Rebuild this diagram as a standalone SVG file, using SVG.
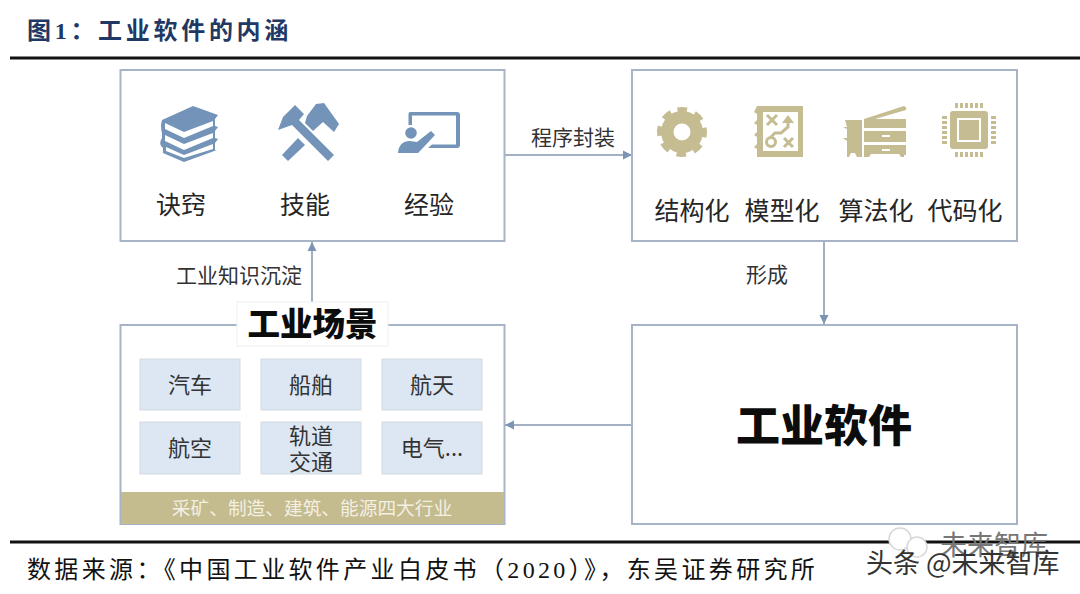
<svg xmlns="http://www.w3.org/2000/svg" width="1080" height="594" viewBox="0 0 1080 594">
<style>
text{font-family:"Noto Sans CJK SC","Liberation Sans",sans-serif;fill:#262626}
.box{fill:#fff;stroke:#a7b4c8;stroke-width:2}
.tile{fill:#dce7f3;stroke:#d3dae3;stroke-width:1}
.lab{font-size:25px;text-anchor:middle}
.t{font-size:22px;text-anchor:middle;fill:#333}
.edge{font-size:21px;text-anchor:middle;fill:#333}
.blue{fill:#7393b8}
.gold{fill:#c5bc92}
.conn{fill:none;stroke:#8496af;stroke-width:1.5;marker-end:url(#arr)}
.rule{stroke:#111;stroke-width:3}
.foot{font-size:24px;fill:#111;letter-spacing:3.35px}
.num{font-family:"Liberation Serif",serif}
</style>
<defs>
<marker id="arr" markerUnits="userSpaceOnUse" markerWidth="10" markerHeight="10" refX="9" refY="5" orient="auto"><path d="M0 0.5L9 5L0 9.5z" fill="#7c93b3"/></marker>
</defs>
<rect width="1080" height="594" fill="#fff"/>
<text x="27" y="39" style="font-size:24px;font-weight:700;fill:#1f3864;letter-spacing:3.7px">图<tspan class="num" style="fill:#1f3864">1</tspan>：工业软件的内涵</text>
<line class="rule" x1="10" y1="58" x2="1080" y2="58"/>
<g id="connectors">
<path class="conn" d="M505 155H632"/>
<path class="conn" d="M824 241V324"/>
<path class="conn" d="M632 425H505"/>
<path class="conn" d="M312 302V242"/>
</g>
<text class="edge" x="573" y="145">程序封装</text>
<text class="edge" x="767" y="282">形成</text>
<text class="edge" x="239" y="283">工业知识沉淀</text>
<g id="node-knowledge">
<rect class="box" x="120.500" y="70" width="384" height="171"/>
<g id="icon-books" class="blue">
<path d="M162 120L193 106L218 115L215 119V126L218 127L215 131V138L218 139L215 143V150L217 150L184 162L163 153V148Q158 144 162 138V133Q160 126 162 120z"/>
<path fill="#fff" d="M165 123L184 132L213 121V126L184 138L165 129z"/>
<path fill="#fff" d="M165 135L184 144L213 133V138L184 150L165 141z"/>
<path fill="#fff" d="M166 147L184 155L213 144V149L184 158L166 151z"/>
</g>
<g id="icon-tools" class="blue">
<path d="M278 130L283 117L295 105L304 114L299 120L334 155L328 161L292 125z"/>
<path d="M307 116L316 104L324 103L339 124L334 132L323 122L313 131L305 123z"/>
<path d="M282 155L298 138L305 145L288 161z"/>
</g>
<g id="icon-teach" class="blue">
<path d="M410 112H457Q460 112 460 115V145Q460 148 457 148H428L432 144.500H456V115.500H412V125H408.500V114Q408.500 112 410 112z"/>
<circle cx="411" cy="133" r="5.800"/>
<path d="M398 153Q399 141 410 141L417 142L431 131L435 135L420 151L418 153z"/>
</g>
<text class="lab" x="181" y="214">诀窍</text>
<text class="lab" x="305" y="214">技能</text>
<text class="lab" x="429" y="214">经验</text>
</g>
<g id="node-forms">
<rect class="box" x="632" y="70" width="385" height="171"/>
<g id="icon-gear">
<circle cx="682" cy="132" r="22" fill="none" stroke="#c5bc92" stroke-width="6" stroke-dasharray="9.300 8" transform="rotate(-101.500 682 132)"/>
<circle class="gold" cx="682" cy="132" r="21"/>
<circle cx="682" cy="132" r="8.500" fill="#fff"/>
</g>
<g id="icon-map">
<path class="gold" fill-rule="evenodd" d="M757 106H803V157H757V149L754 147L757 144V137L754 135L757 132V125L754 123L757 120V114L754 112z M763 112V151H798V112z"/>
<path fill="none" stroke="#c5bc92" stroke-width="3" d="M767 115L777 125M777 115L767 125M784 138L793 147M793 138L784 147M788 120V127L781 133H775L771 137"/>
<path class="gold" d="M788 115L794 123H782z"/>
<circle cx="771" cy="142" r="4.500" fill="none" stroke="#c5bc92" stroke-width="3"/>
</g>
<g id="icon-machine" class="gold">
<path d="M845 120H862V157H857L855 153H851L849 157H847V141L843 138H847V129L843 127H847z"/>
<path d="M864 119L904 106Q907 107 906 110L875 119H906V128H864z"/>
<path fill-rule="evenodd" d="M864 131H906V142H864z M882 135V137H890V135z"/>
<path fill-rule="evenodd" d="M864 145H906V155H904V157H901L899 154H871L869 157H864z M882 149V151H890V149z"/>
</g>
<g id="icon-chip" class="gold">
<rect x="950" y="111" width="38" height="38" rx="3"/>
<rect x="958" y="119" width="22" height="22" fill="none" stroke="#fff" stroke-width="2"/>
<path d="M955 103h3v5h-3zM960 103h3v5h-3zM965 103h3v5h-3zM970 103h3v5h-3zM975 103h3v5h-3zM980 103h3v5h-3zM955 152h3v5h-3zM960 152h3v5h-3zM965 152h3v5h-3zM970 152h3v5h-3zM975 152h3v5h-3zM980 152h3v5h-3zM942 116h5v3h-5zM942 121h5v3h-5zM942 126h5v3h-5zM942 131h5v3h-5zM942 136h5v3h-5zM942 141h5v3h-5zM991 116h5v3h-5zM991 121h5v3h-5zM991 126h5v3h-5zM991 131h5v3h-5zM991 136h5v3h-5zM991 141h5v3h-5z"/>
</g>
<text class="lab" x="692" y="220">结构化</text>
<text class="lab" x="782" y="220">模型化</text>
<text class="lab" x="876" y="220">算法化</text>
<text class="lab" x="965" y="220">代码化</text>
</g>
<g id="node-scenes">
<rect class="box" x="120.500" y="325" width="384" height="199"/>
<rect x="121" y="492" width="383" height="32" fill="#c4bb8f"/>
<text x="312" y="515" style="font-size:18.700px;text-anchor:middle;fill:#f3f0e2">采矿、制造、建筑、能源四大行业</text>
<rect x="237" y="302" width="151" height="44" fill="#fff" stroke="#eceff3"/>
<text x="312.500" y="336" style="font-size:32.500px;font-weight:900;text-anchor:middle;fill:#0c0c0c">工业场景</text>
</g>
<g id="tile-car"><rect class="tile" x="140" y="359" width="100" height="51"/><text class="t" x="190" y="393">汽车</text></g>
<g id="tile-ship"><rect class="tile" x="261" y="359" width="100" height="51"/><text class="t" x="311" y="393">船舶</text></g>
<g id="tile-aero"><rect class="tile" x="382" y="359" width="100" height="51"/><text class="t" x="432" y="393">航天</text></g>
<g id="tile-air"><rect class="tile" x="140" y="422" width="100" height="52"/><text class="t" x="190" y="456">航空</text></g>
<g id="tile-rail"><rect class="tile" x="261" y="422" width="100" height="52"/><text class="t" x="311" y="444"><tspan x="311">轨道</tspan><tspan x="311" dy="26">交通</tspan></text></g>
<g id="tile-elec"><rect class="tile" x="382" y="422" width="100" height="52"/><text class="t" x="432" y="456">电气...</text></g>
<g id="node-software">
<rect class="box" x="632" y="325" width="385" height="199"/>
<text x="824" y="442" style="font-size:44px;font-weight:900;text-anchor:middle;fill:#0c0c0c">工业软件</text>
</g>
<line class="rule" x1="10" y1="542" x2="1080" y2="542"/>
<text class="foot" x="27" y="578">数据来源：《中国工业软件产业白皮书（<tspan class="num" style="fill:#111">2020</tspan>）》，东吴证券研究所</text>
<g id="watermark">
<circle cx="900" cy="539" r="11" fill="#fff" stroke="#d8d8d8" stroke-width="1.500"/>
<circle cx="917" cy="547" r="10" fill="#fff" stroke="#d8d8d8" stroke-width="1.500"/>
<text x="940" y="555" style="font-size:27px;fill:#777">未来智库</text>
<text x="866" y="573" style="font-size:27px;fill:#333">头条 @未来智库</text>
</g>
</svg>
